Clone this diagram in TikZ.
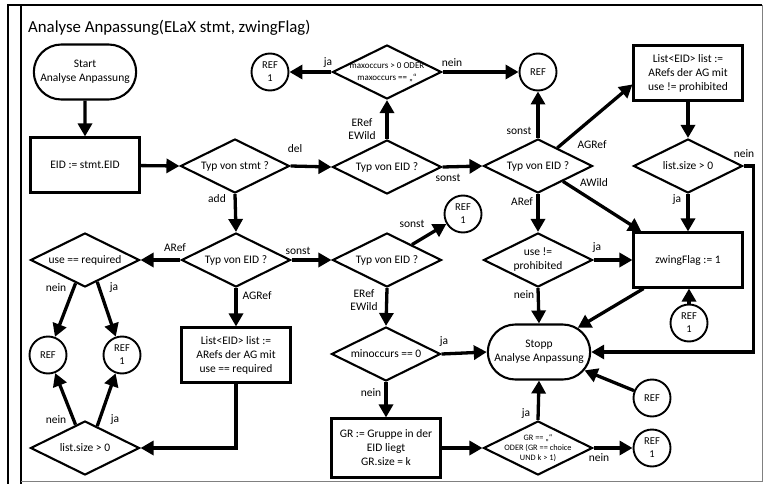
\documentclass[tikz,border=0pt]{standalone}
\usepackage{fontspec}
\setmainfont{Carlito}
\usetikzlibrary{arrows.meta,shapes.geometric,shapes.misc,calc}
\begin{document}
\begin{tikzpicture}[x=1pt,y=-1pt,
  txt/.style={font=\fontsize{11.5}{14}\selectfont, align=center},
  lbl/.style={font=\fontsize{11.5}{13}\selectfont, align=center, inner sep=0pt},
  small/.style={font=\fontsize{9}{12}\selectfont, align=center},
  tiny/.style={font=\fontsize{8.3}{9.6}\selectfont, align=center},
  dia/.style={diamond, draw, line width=2.1pt, minimum width=109pt, minimum height=54pt, inner sep=0pt},
  box/.style={rectangle, draw, line width=2.1pt, minimum width=109pt, minimum height=55pt, inner sep=2pt, txt},
  term/.style={rounded rectangle, draw, line width=2.1pt, minimum width=109pt, minimum height=55pt, txt},
  refc/.style={circle, draw, line width=1.9pt, minimum size=37pt, inner sep=0pt, font=\fontsize{10.5}{13}\selectfont, align=center},
  arr/.style={line width=3.3pt, -{Triangle[length=13pt,width=14pt]}},
]
\useasboundingbox (0,0) rectangle (765,484);

% frame
\draw[line width=1.3pt] (8,484) -- (8,5) -- (762,5);
\draw[line width=1.3pt] (21,5) -- (21,484);
\draw[gray, line width=1pt] (762,5) -- (762,481) -- (21,481);
\node[anchor=base west, inner sep=0pt, font=\fontsize{16.8}{20}\selectfont] (title) at (28,33) {Analyse Anpassung(ELaX stmt, zwingFlag)};

% nodes
\node[term] (start) at (85,72) {Start\\Analyse Anpassung};
\node[box] (eid) at (85,165) {EID := stmt.EID};
\node[dia, label={[txt]center:{Typ von stmt ?}}] (tstmt) at (235,166) {};
\node[dia, label={[txt]center:{Typ von EID ?}}] (tdel) at (387,167) {};
\node[dia, label={[small]center:{maxoccurs > 0 ODER\\maxoccurs == „“}}] (maxo) at (387,72) {};
\node[refc] (rmax) at (270,72) {REF\\1};
\node[refc] (rtop) at (538,72) {REF};
\node[dia, label={[txt]center:{Typ von EID ?}}] (tdel2) at (538,166) {};
\node[box] (listp) at (688,73) {List<EID> list :=\\ARefs der AG mit\\use != prohibited};
\node[dia, label={[txt]center:{list.size > 0}}] (lsr) at (688,166) {};
\node[box] (zw) at (688,260) {zwingFlag := 1};
\node[refc] (rzw) at (689,323) {REF\\1};
\node[dia, label={[txt]center:{use !=\\prohibited}}] (usep) at (538,260) {};
\node[term] (stopp) at (539,352) {Stopp\\Analyse Anpassung};
\node[refc] (rstop) at (652,398) {REF};
\node[dia, label={[tiny]center:{GR == „“\\ODER (GR == choice\\UND k > 1)}}] (grd) at (538,448) {};
\node[refc] (rgr) at (652,448) {REF\\1};
\node[box, minimum height=59pt] (grb) at (386,448) {GR := Gruppe in der\\EID liegt\\GR.size = k};
\node[dia, label={[txt]center:{minoccurs == 0}}] (mino) at (386,354) {};
\node[dia, label={[txt]center:{Typ von EID ?}}] (tadd2) at (387,260) {};
\node[refc] (rs) at (463,214) {REF\\1};
\node[dia, label={[txt]center:{Typ von EID ?}}] (tadd) at (236,260) {};
\node[box] (listr) at (236,355) {List<EID> list :=\\ARefs der AG mit\\use == required};
\node[dia, label={[txt]center:{use == required}}] (ureq) at (85,260) {};
\node[refc] (rl0) at (48,355) {REF};
\node[refc] (rl1) at (122,355) {REF\\1};
\node[dia, label={[txt]center:{list.size > 0}}] (lsl) at (85,448) {};

% connectors
\draw[arr] (start) -- (eid);
\draw[arr] (eid) -- (tstmt.west);
\draw[arr] (tstmt.east) -- (tdel.west);
\draw[arr] (tdel.north) -- (maxo.south);
\draw[arr] (maxo.west) -- (rmax);
\draw[arr] (maxo.east) -- (rtop);
\draw[arr] (tdel.east) -- (tdel2.west);
\draw[arr] (tdel2.north) -- (rtop);
\draw[arr] ($(tdel2.north)!0.35!(tdel2.east)$) -- ($(listp.south west)!0.3!(listp.north west)$);
\draw[arr] (listp) -- (lsr);
\draw[arr] (lsr.east) -- ++(10,0) |- (stopp.east);
\draw[arr] (lsr.south) -- (zw.north);
\draw[arr] (rzw.north) -- (rzw.north |- zw.south);
\draw[arr] ($(tdel2.east)!0.55!(tdel2.south)$) -- ($(zw.north west)!0.08!(zw.north east)$);
\draw[arr] (tdel2.south) -- (usep.north);
\draw[arr] (usep.east) -- (zw.west);
\draw[arr] (usep.south) -- (stopp.north);
\draw[arr] ($(zw.south west)!0.1!(zw.south east)$) -- (stopp.32);
\draw[arr] (rstop) -- (stopp.-22);
\draw[arr] (grd.north) -- (stopp.south);
\draw[arr] (grd.east) -- (rgr);
\draw[arr] (grb.east) -- (grd.west);
\draw[arr] (mino.south) -- (grb.north);
\draw[arr] (mino.east) -- (stopp.west);
\draw[arr] (tadd2.south) -- (mino.north);
\draw[arr] ($(tadd2.north)!0.45!(tadd2.east)$) -- (rs);
\draw[arr] (tadd.east) -- (tadd2.west);
\draw[arr] (tstmt.south) -- (tadd.north);
\draw[arr] (tadd.west) -- (ureq.east);
\draw[arr] (tadd.south) -- (listr.north);
\draw[arr] (listr.south) |- (lsl.east);
\draw[arr] ($(ureq.south)!0.17!(ureq.west)$) -- (rl0);
\draw[arr] ($(ureq.south)!0.22!(ureq.east)$) -- (rl1);
\draw[arr] ($(lsl.north)!0.17!(lsl.west)$) -- (rl0);
\draw[arr] ($(lsl.north)!0.22!(lsl.east)$) -- (rl1);

% connector labels
\node[lbl] (l-del) at (295,149) {del};
\node[lbl] (l-add) at (217,199) {add};
\node[lbl] (l-ew1) at (362,129) {ERef\\EWild};
\node[lbl] (l-mja) at (328,63) {ja};
\node[lbl] (l-mnein) at (452,63) {nein};
\node[lbl] (l-son1) at (448,178) {sonst};
\node[lbl] (l-son2) at (519,131) {sonst};
\node[lbl] (l-agr1) at (592,145) {AGRef};
\node[lbl] (l-awild) at (594,183) {AWild};
\node[lbl] (l-lnein) at (744,154) {nein};
\node[lbl] (l-lja) at (677,200) {ja};
\node[lbl] (l-aref1) at (522,202) {ARef};
\node[lbl] (l-uja) at (597,248) {ja};
\node[lbl] (l-unein) at (524,295) {nein};
\node[lbl] (l-aref2) at (175,248) {ARef};
\node[lbl] (l-agr2) at (257,296) {AGRef};
\node[lbl] (l-son3) at (298,251) {sonst};
\node[lbl] (l-son4) at (412,224) {sonst};
\node[lbl] (l-ew2) at (364,300) {ERef\\EWild};
\node[lbl] (l-rnein) at (56,288) {nein};
\node[lbl] (l-rja) at (114,288) {ja};
\node[lbl] (l-snein) at (56,420) {nein};
\node[lbl] (l-sja) at (115,420) {ja};
\node[lbl] (l-mija) at (444,342) {ja};
\node[lbl] (l-minein) at (371,393) {nein};
\node[lbl] (l-gja) at (526,414) {ja};
\node[lbl] (l-gnein) at (599,458) {nein};
\end{tikzpicture}
\end{document}
